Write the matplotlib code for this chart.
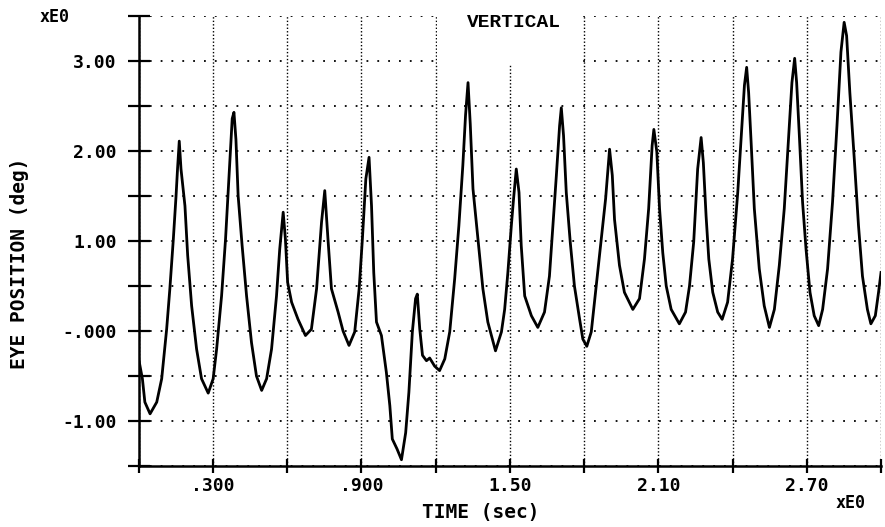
import numpy as np
import matplotlib
matplotlib.use("Agg")
import matplotlib.pyplot as plt
from matplotlib.patches import Rectangle

# eye position trace (time in sec, position in deg)
time_s = [0.000, 0.015, 0.025, 0.046, 0.073, 0.093, 0.113, 0.126, 0.140, 0.151,
          0.157, 0.164, 0.171, 0.187, 0.198, 0.214, 0.234, 0.254, 0.281, 0.301,
          0.315, 0.335, 0.351, 0.366, 0.378, 0.385, 0.393, 0.402, 0.418, 0.436,
          0.456, 0.476, 0.497, 0.517, 0.537, 0.557, 0.570, 0.584, 0.593, 0.602,
          0.618, 0.644, 0.674, 0.698, 0.719, 0.739, 0.752, 0.765, 0.779, 0.806,
          0.826, 0.850, 0.873, 0.891, 0.904, 0.918, 0.931, 0.941, 0.950, 0.961,
          0.981, 1.001, 1.015, 1.025, 1.044, 1.062, 1.079, 1.092, 1.106, 1.119,
          1.126, 1.136, 1.147, 1.163, 1.176, 1.196, 1.216, 1.237, 1.257, 1.277,
          1.294, 1.310, 1.321, 1.331, 1.340, 1.351, 1.371, 1.391, 1.411, 1.442,
          1.466, 1.479, 1.492, 1.506, 1.515, 1.526, 1.537, 1.546, 1.560, 1.587,
          1.613, 1.640, 1.660, 1.674, 1.688, 1.701, 1.708, 1.717, 1.728, 1.744,
          1.761, 1.782, 1.795, 1.811, 1.829, 1.849, 1.869, 1.887, 1.903, 1.914,
          1.923, 1.943, 1.963, 1.997, 2.024, 2.044, 2.061, 2.075, 2.082, 2.094,
          2.105, 2.118, 2.132, 2.152, 2.185, 2.210, 2.226, 2.243, 2.259, 2.273,
          2.282, 2.293, 2.304, 2.320, 2.340, 2.358, 2.380, 2.400, 2.421, 2.438,
          2.448, 2.457, 2.465, 2.475, 2.488, 2.508, 2.528, 2.549, 2.569, 2.589,
          2.609, 2.627, 2.640, 2.651, 2.659, 2.670, 2.683, 2.697, 2.713, 2.730,
          2.748, 2.764, 2.784, 2.804, 2.822, 2.838, 2.851, 2.861, 2.874, 2.892,
          2.909, 2.925, 2.945, 2.959, 2.977, 2.990, 3.000]
eye_deg = [-0.31, -0.53, -0.79, -0.92, -0.79, -0.53, 0.02, 0.47, 1.02, 1.50,
           1.80, 2.11, 1.80, 1.39, 0.84, 0.28, -0.20, -0.53, -0.69, -0.53,
           -0.20, 0.39, 1.02, 1.76, 2.36, 2.43, 2.13, 1.50, 0.95, 0.39,
           -0.13, -0.50, -0.66, -0.53, -0.20, 0.39, 0.91, 1.32, 1.02, 0.54,
           0.32, 0.13, -0.05, 0.02, 0.47, 1.21, 1.56, 1.02, 0.47, 0.21,
           0.00, -0.16, -0.01, 0.47, 1.02, 1.69, 1.93, 1.39, 0.65, 0.10,
           -0.05, -0.46, -0.83, -1.20, -1.31, -1.43, -1.13, -0.68, -0.01, 0.36,
           0.41, 0.02, -0.27, -0.33, -0.30, -0.39, -0.44, -0.31, -0.01, 0.58,
           1.17, 1.84, 2.40, 2.76, 2.30, 1.58, 1.02, 0.47, 0.10, -0.22,
           -0.01, 0.24, 0.65, 1.17, 1.47, 1.80, 1.54, 0.95, 0.39, 0.17,
           0.04, 0.21, 0.61, 1.17, 1.73, 2.28, 2.48, 2.17, 1.54, 0.99,
           0.50, 0.13, -0.09, -0.17, -0.01, 0.50, 1.02, 1.47, 2.02, 1.73,
           1.24, 0.73, 0.43, 0.24, 0.36, 0.80, 1.36, 2.06, 2.24, 1.99,
           1.36, 0.87, 0.50, 0.24, 0.08, 0.21, 0.50, 0.99, 1.80, 2.15,
           1.87, 1.28, 0.80, 0.43, 0.21, 0.13, 0.32, 0.80, 1.54, 2.28,
           2.73, 2.93, 2.65, 2.10, 1.36, 0.69, 0.28, 0.04, 0.24, 0.73,
           1.36, 2.17, 2.76, 3.03, 2.76, 2.17, 1.43, 0.91, 0.43, 0.17,
           0.06, 0.24, 0.69, 1.43, 2.28, 3.10, 3.43, 3.28, 2.65, 1.91,
           1.17, 0.61, 0.24, 0.08, 0.17, 0.43, 0.65]

x_ticks = [0.0, 0.3, 0.6, 0.9, 1.2, 1.5, 1.8, 2.1, 2.4, 2.7, 3.0]
x_labels = ["", ".300", "", ".900", "", "1.50", "", "2.10", "", "2.70", ""]
y_ticks = [-1.5, -1.0, -0.5, 0.0, 0.5, 1.0, 1.5, 2.0, 2.5, 3.0, 3.5]
y_labels = ["", "-1.00", "", "-.000", "", "1.00", "", "2.00", "", "3.00", ""]

mono = "DejaVu Sans Mono"

fig = plt.figure(figsize=(8.85, 5.27), dpi=100)
ax = fig.add_axes([0.1567, 0.1157, 0.8388, 0.8539])

ax.plot(time_s, eye_deg, color="black", lw=2.0, zorder=3)

ax.set_xlim(0, 3.0)
ax.set_ylim(-1.5, 3.5)
ax.set_xticks(x_ticks)
ax.set_xticklabels(x_labels, fontfamily=mono, fontweight="bold", fontsize=13)
ax.set_yticks(y_ticks)
ax.set_yticklabels(y_labels, fontfamily=mono, fontweight="bold", fontsize=13)
ax.tick_params(axis="y", direction="inout", length=16, width=1.6, pad=8)
ax.tick_params(axis="x", direction="inout", length=10, width=1.6, pad=3)

# dotted grid, horizontal dots wider apart than vertical ones
for y in y_ticks:
    ax.axhline(y, color="black", lw=1.3, ls=(0, (1, 5)), zorder=1)
for x in x_ticks:
    ax.axvline(x, color="black", lw=1.0, ls=(0, (1, 1.5)), zorder=1)

for s in ["top", "right"]:
    ax.spines[s].set_visible(False)
for s in ["left", "bottom"]:
    ax.spines[s].set_linewidth(1.8)

# blank patch behind the title
ax.add_patch(Rectangle((0.402, 0.893), 0.19, 0.12, transform=ax.transAxes,
                       facecolor="white", edgecolor="none", zorder=2, clip_on=False))
ax.text(0.506, 0.985, "VERTICAL", transform=ax.transAxes, ha="center", va="center",
        fontfamily="Liberation Mono", fontweight="bold", fontsize=14, zorder=4)

fig.text(0.022, 0.5, "EYE POSITION (deg)", rotation=90, ha="center", va="center",
         fontfamily=mono, fontweight="bold", fontsize=14)
fig.text(0.543, 0.028, "TIME (sec)", ha="center", va="center",
         fontfamily=mono, fontweight="bold", fontsize=14)
fig.text(0.062, 0.968, "xE0", ha="center", va="center",
         fontfamily=mono, fontweight="bold", fontsize=12)
fig.text(0.961, 0.046, "xE0", ha="center", va="center",
         fontfamily=mono, fontweight="bold", fontsize=12)

fig.savefig("out.png", dpi=100)
